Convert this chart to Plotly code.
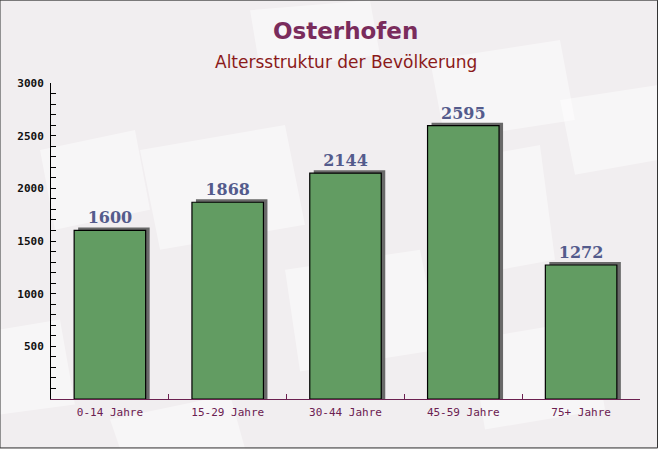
import plotly.graph_objects as go

categories = ["0-14 Jahre", "15-29 Jahre", "30-44 Jahre", "45-59 Jahre", "75+ Jahre"]
values = [1600, 1868, 2144, 2595, 1272]
y_tick_values = [500, 1000, 1500, 2000, 2500, 3000]
y_tick_labels = ["500", "1000", "1500", "2000", "2500", "3000"]

title_text = "Osterhofen"
subtitle_text = "Altersstruktur der Bevölkerung"

BAR_W = 0.607
shadow_lift = 28  # ~3px in data units
shadow_values = [v + shadow_lift for v in values]

fig = go.Figure()

# shadow bars (3D effect)
fig.add_trace(go.Bar(
    x=categories, y=shadow_values,
    width=BAR_W, offset=-BAR_W / 2 + 0.034,
    marker=dict(color="rgb(105,105,105)", line=dict(width=0)),
    hoverinfo="skip", showlegend=False,
))

# main bars
fig.add_trace(go.Bar(
    x=categories, y=values,
    width=BAR_W, offset=-BAR_W / 2,
    marker=dict(color="rgb(98,156,98)", line=dict(color="black", width=1.2)),
    text=[str(v) for v in values], textposition="outside",
    textfont=dict(family="DejaVu Serif", size=16, color="#545b8c"),
    texttemplate="<b>%{text}</b>",
    cliponaxis=False, showlegend=False,
))

# faint decorative "envelope" background pieces (paper coordinates)
PW, PH, L, B = 589.0, 316.5, 51.0, 49.5


def px_path(points):
    pts = [((x - L) / PW, (449 - y - B) / PH) for x, y in points]
    return "M " + " L ".join("%.4f,%.4f" % p for p in pts) + " Z"


deco = [
    [(140, 150), (285, 125), (305, 225), (160, 250)],
    [(285, 270), (420, 250), (440, 350), (300, 372)],
    [(430, 60), (560, 40), (575, 120), (445, 140)],
    [(560, 100), (658, 85), (658, 160), (575, 175)],
    [(40, 150), (135, 130), (150, 210), (55, 230)],
    [(430, 165), (540, 145), (555, 260), (445, 280)],
    [(110, 420), (230, 395), (245, 449), (120, 449)],
    [(0, 330), (60, 320), (75, 405), (0, 415)],
    [(250, 10), (370, 0), (380, 55), (260, 70)],
    [(470, 340), (590, 320), (605, 410), (485, 430)],
]
shapes = [
    dict(type="path", xref="paper", yref="paper", path=px_path(p),
         fillcolor="rgba(255,255,255,0.45)", line=dict(width=0), layer="below")
    for p in deco
]
shapes.append(
    dict(type="rect", xref="paper", yref="paper", x0=-51 / 589, x1=1 + 17.5 / 589,
         y0=-49 / 316.5, y1=1 + 83 / 316.5, line=dict(color="#333333", width=1), layer="below")
)

fig.update_layout(
    width=658, height=449,
    barmode="overlay",
    paper_bgcolor="#f1eef0",
    plot_bgcolor="rgba(0,0,0,0)",
    margin=dict(l=51, r=18, t=83, b=50, autoexpand=False),
    xaxis=dict(
        type="category", range=[-0.5, 4.5],
        showline=True, linecolor="#6b2050", linewidth=1,
        ticks="inside", ticklen=5, tickcolor="#6b2050", tickson="boundaries",
        tickfont=dict(family="DejaVu Sans Mono", size=11, color="#6b2050"),
        ticklabelstandoff=3,
        showgrid=False, zeroline=False, fixedrange=True,
    ),
    yaxis=dict(
        range=[0, 3000],
        tickvals=y_tick_values, ticktext=["<b>%s</b>" % t for t in y_tick_labels],
        showline=True, linecolor="black", linewidth=1,
        ticks="inside", ticklen=5, tickcolor="black",
        minor=dict(dtick=100, ticks="inside", ticklen=5, tickcolor="black", showgrid=False),
        tickfont=dict(family="DejaVu Sans Mono", size=11, color="#111111"),
        ticklabelstandoff=4,
        showgrid=False, zeroline=False, fixedrange=True,
    ),
    annotations=[
        dict(text="<b>%s</b>" % title_text, xref="paper", yref="paper",
             x=0.5, y=(399.5 - 31) / 316.5, xanchor="center", yanchor="middle",
             showarrow=False, font=dict(family="DejaVu Sans", size=23, color="#7a2c5c")),
        dict(text=subtitle_text, xref="paper", yref="paper",
             x=0.5, y=(399.5 - 62) / 316.5, xanchor="center", yanchor="middle",
             showarrow=False, font=dict(family="DejaVu Sans", size=17, color="#8b1a1a")),
    ],
    shapes=shapes,
)

fig.write_html(
    "out.html",
    config={"displayModeBar": False, "staticPlot": True},
    post_script="document.body.style.margin='0';document.body.style.overflow='hidden';",
)
